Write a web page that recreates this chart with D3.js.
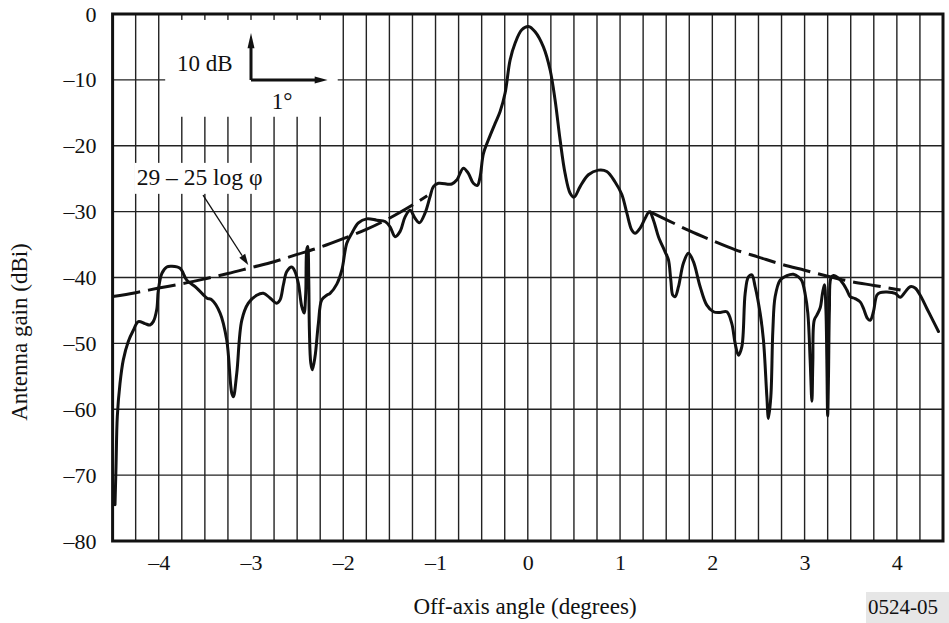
<!DOCTYPE html>
<html>
<head>
<meta charset="utf-8">
<script src="https://cdn.jsdelivr.net/npm/d3@7/dist/d3.min.js"></script>
<style>
  html, body { margin: 0; padding: 0; background: #fff; }
  svg { display: block; }
  text { font-family: "Liberation Serif", "Times New Roman", serif; fill: #111; }
</style>
</head>
<body>
<svg id="chart" width="949" height="623"></svg>
<script>
// ---- data ----
const xTickValues = [-4, -3, -2, -1, 0, 1, 2, 3, 4];
const xTickLabels = ["–4", "–3", "–2", "–1", "0", "1", "2", "3", "4"];
const yTickValues = [0, -10, -20, -30, -40, -50, -60, -70, -80];
const yTickLabels = ["0", "–10", "–20", "–30", "–40", "–50", "–60", "–70", "–80"];

// measured antenna pattern: off-axis angle (deg)
const patternAngle = [
  -4.474, -4.463, -4.449, -4.420, -4.384, -4.330, -4.275, -4.221, -4.149, -4.095,
  -4.059, -4.022, -4.004, -3.967, -3.913, -3.859, -3.769, -3.696, -3.588, -3.480,
  -3.425, -3.335, -3.263, -3.209, -3.191, -3.154, -3.100, -3.029, -2.938, -2.866,
  -2.794, -2.721, -2.685, -2.649, -2.612, -2.558, -2.523, -2.487, -2.450, -2.425,
  -2.407, -2.396, -2.385, -2.374, -2.367, -2.352, -2.335, -2.306, -2.270, -2.233,
  -2.179, -2.143, -2.070, -2.016, -1.962, -1.908, -1.836, -1.745, -1.637, -1.547,
  -1.493, -1.438, -1.384, -1.330, -1.276, -1.222, -1.175, -1.113, -1.059, -1.023,
  -0.969, -0.824, -0.770, -0.698, -0.644, -0.590, -0.546, -0.517, -0.481, -0.427,
  -0.354, -0.300, -0.246, -0.192, -0.138, -0.065, 0.007, 0.079, 0.169, 0.242,
  0.296, 0.350, 0.404, 0.459, 0.502, 0.567, 0.657, 0.765, 0.856, 0.946,
  1.019, 1.073, 1.127, 1.163, 1.218, 1.272, 1.318, 1.362, 1.416, 1.488,
  1.524, 1.550, 1.572, 1.597, 1.633, 1.687, 1.741, 1.795, 1.868, 1.940,
  2.012, 2.085, 2.157, 2.211, 2.247, 2.283, 2.320, 2.356, 2.391, 2.428,
  2.464, 2.518, 2.554, 2.591, 2.608, 2.634, 2.656, 2.681, 2.735, 2.808,
  2.879, 2.933, 2.970, 3.006, 3.035, 3.060, 3.079, 3.089, 3.104, 3.133,
  3.169, 3.194, 3.215, 3.231, 3.241, 3.250, 3.259, 3.269, 3.285, 3.313,
  3.367, 3.421, 3.458, 3.494, 3.548, 3.602, 3.638, 3.681, 3.711, 3.746,
  3.783, 3.819, 3.892, 3.982, 4.036, 4.090, 4.144, 4.198, 4.253, 4.325,
  4.397, 4.451
];
// measured antenna pattern: gain (dBi)
const patternGain = [
  -74.5, -68.7, -61.1, -56.1, -52.5, -49.7, -48.0, -46.7, -47.0, -47.2,
  -46.7, -44.9, -41.9, -39.4, -38.4, -38.3, -38.6, -40.4, -41.6, -43.1,
  -43.4, -45.4, -49.5, -57.5, -58.1, -54.5, -46.5, -43.9, -42.7, -42.4,
  -43.1, -43.9, -43.4, -41.1, -39.1, -38.4, -39.1, -40.9, -44.4, -45.4,
  -42.4, -35.8, -35.3, -40.4, -48.0, -53.0, -54.0, -52.0, -47.0, -43.4,
  -42.7, -42.4, -41.0, -38.9, -34.8, -33.3, -31.7, -31.1, -31.3, -31.5,
  -32.3, -33.8, -33.0, -30.8, -29.8, -31.0, -31.7, -30.2, -27.7, -26.2,
  -25.7, -25.8, -25.2, -23.4, -24.2, -25.7, -26.0, -24.7, -21.2, -19.1,
  -16.6, -14.8, -12.0, -7.0, -4.45, -2.4, -1.9, -2.7, -5.0, -8.5,
  -13.1, -19.1, -24.2, -27.2, -27.8, -26.2, -24.4, -23.7, -23.9, -25.5,
  -27.4, -30.2, -32.8, -33.3, -32.5, -31.0, -30.0, -31.3, -33.8, -36.1,
  -37.3, -40.4, -42.7, -42.9, -41.4, -37.8, -36.3, -37.6, -41.4, -44.2,
  -45.2, -45.3, -45.2, -47.0, -50.0, -51.8, -50.5, -42.4, -39.9, -39.6,
  -41.4, -45.4, -49.5, -58.1, -61.4, -58.1, -48.0, -42.9, -40.4, -39.7,
  -39.5, -39.9, -40.5, -42.5, -45.4, -52.5, -58.8, -53.0, -46.5, -45.7,
  -44.6, -42.4, -41.1, -44.9, -52.5, -61.0, -55.0, -44.9, -40.1, -39.7,
  -40.1, -41.0, -41.9, -42.9, -43.2, -43.7, -44.7, -46.2, -46.5, -45.2,
  -42.7, -42.3, -42.2, -42.4, -43.0, -42.2, -41.4, -41.6, -42.7, -44.7,
  -46.7, -48.2
];

// reference envelope "29 – 25 log φ"
const envLeftAngle = [-4.5, -4.25, -4.0, -3.75, -3.5, -3.25, -3.0, -2.75, -2.5, -2.25, -2.0, -1.75, -1.5, -1.25, -1.09];
const envLeftGain  = [-42.9, -42.3, -41.6, -40.95, -40.2, -39.4, -38.5, -37.6, -36.5, -35.4, -34.1, -32.7, -31.0, -29.0, -27.6];
const envRightAngle = [1.32, 1.5, 1.75, 2.0, 2.25, 2.5, 2.75, 3.0, 3.25, 3.5, 3.75, 4.04];
const envRightGain  = [-30.0, -31.2, -32.9, -34.4, -35.8, -36.9, -38.0, -38.9, -39.8, -40.6, -41.2, -41.9];

// ---- drawing ----
const svg = d3.select("#chart");
const x = d3.scaleLinear().domain([-4.5, 4.5]).range([112.6, 943]);
const y = d3.scaleLinear().domain([0, -80]).range([14, 541]);

const gridX = d3.range(-4.25, 4.26, 0.25);
const gridY = d3.range(-10, -71, -10);

// grid
svg.append("g").selectAll("line").data(gridX).join("line")
  .attr("x1", d => x(d)).attr("x2", d => x(d))
  .attr("y1", y(0)).attr("y2", y(-80))
  .attr("stroke", "#222").attr("stroke-width", 1.4);
svg.append("g").selectAll("line").data(gridY).join("line")
  .attr("x1", x(-4.5)).attr("x2", x(4.5))
  .attr("y1", d => y(d)).attr("y2", d => y(d))
  .attr("stroke", "#222").attr("stroke-width", 1.4);

// white panels (inset scale and formula label)
svg.append("rect")
  .attr("x", x(-3.93)).attr("y", y(-0.9))
  .attr("width", x(-2.06) - x(-3.93)).attr("height", y(-15.6) - y(-0.9))
  .attr("fill", "#fff");
svg.append("rect")
  .attr("x", x(-4.26)).attr("y", y(-22.6))
  .attr("width", x(-2.82) - x(-4.26)).attr("height", y(-27.3) - y(-22.6))
  .attr("fill", "#fff");

// frame
svg.append("rect")
  .attr("x", x(-4.5)).attr("y", y(0))
  .attr("width", x(4.5) - x(-4.5)).attr("height", y(-80) - y(0))
  .attr("fill", "none").attr("stroke", "#111").attr("stroke-width", 3);

// axes (labels only)
const xAxis = d3.axisBottom(x).tickValues(xTickValues)
  .tickFormat((d, i) => xTickLabels[i]).tickSize(0).tickPadding(13);
const gx = svg.append("g").attr("transform", `translate(0,${y(-80)})`).call(xAxis);
gx.select(".domain").remove();
gx.attr("font-family", "Liberation Serif, serif");
gx.selectAll("text").attr("font-size", 22).attr("fill", "#111");

const yAxis = d3.axisLeft(y).tickValues(yTickValues)
  .tickFormat((d, i) => yTickLabels[i]).tickSize(0).tickPadding(16);
const gy = svg.append("g").attr("transform", `translate(${x(-4.5)},0)`).call(yAxis);
gy.select(".domain").remove();
gy.attr("font-family", "Liberation Serif, serif");
gy.selectAll("text").attr("font-size", 22).attr("fill", "#111");

// axis titles
svg.append("text").attr("x", 525).attr("y", 614).attr("text-anchor", "middle")
  .attr("font-size", 23).text("Off-axis angle (degrees)");
svg.append("text").attr("transform", "translate(27,332) rotate(-90)")
  .attr("text-anchor", "middle").attr("font-size", 23).text("Antenna gain (dBi)");

// figure number box
svg.append("rect").attr("x", 866).attr("y", 592).attr("width", 83).attr("height", 31)
  .attr("fill", "#e6e6e6");
svg.append("text").attr("x", 903).attr("y", 614).attr("text-anchor", "middle")
  .attr("font-size", 21).text("0524-05");

// envelope dashed curves
const envLine = d3.line().x(d => x(d[0])).y(d => y(d[1])).curve(d3.curveMonotoneX);
[[envLeftAngle, envLeftGain], [envRightAngle, envRightGain]].forEach(([a, g]) => {
  svg.append("path").datum(a.map((v, i) => [v, g[i]]))
    .attr("d", envLine).attr("fill", "none").attr("stroke", "#111")
    .attr("stroke-width", 3).attr("stroke-dasharray", "28,8");
});

// pattern curve
const pattern = patternAngle.map((v, i) => [v, patternGain[i]]);
svg.append("path").datum(pattern)
  .attr("d", d3.line().x(d => x(d[0])).y(d => y(d[1])).curve(d3.curveCatmullRom.alpha(0.5)))
  .attr("fill", "none").attr("stroke", "#111").attr("stroke-width", 3)
  .attr("stroke-linejoin", "round").attr("stroke-linecap", "round");

// inset scale: 10 dB / 1°
const cx = x(-3.0), cy = y(-10);
svg.append("path")
  .attr("d", `M${cx},${cy} L${cx},${y(-4.6)} M${cx},${cy} L${x(-2.3)},${cy}`)
  .attr("stroke", "#111").attr("stroke-width", 3).attr("fill", "none");
svg.append("path")
  .attr("d", `M${cx},${y(-2.9)} L${cx - 3.5},${y(-5.2)} L${cx + 3.5},${y(-5.2)} Z`)
  .attr("fill", "#111");
svg.append("path")
  .attr("d", `M${x(-2.17)},${cy} L${x(-2.31)},${cy - 3.5} L${x(-2.31)},${cy + 3.5} Z`)
  .attr("fill", "#111");
svg.append("text").attr("x", x(-3.2)).attr("y", y(-8.65)).attr("text-anchor", "end")
  .attr("font-size", 23).text("10 dB");
svg.append("text").attr("x", x(-2.775)).attr("y", y(-14.4))
  .attr("font-size", 23).text("1°");

// formula label with leader arrow
svg.append("text").attr("x", x(-4.239)).attr("y", y(-25.96))
  .attr("font-size", 23.5).text("29 – 25 log φ");
const ax1 = x(-3.52), ay1 = y(-27.5), ax2 = x(-3.03), ay2 = y(-38.1);
const ang = Math.atan2(ay2 - ay1, ax2 - ax1);
const hl = 11, hw = 3.5;
const bx = ax2 - hl * Math.cos(ang), by = ay2 - hl * Math.sin(ang);
svg.append("line").attr("x1", ax1).attr("y1", ay1).attr("x2", bx).attr("y2", by)
  .attr("stroke", "#111").attr("stroke-width", 1.3);
svg.append("path")
  .attr("d", `M${ax2},${ay2} L${bx - hw * Math.sin(ang)},${by + hw * Math.cos(ang)} L${bx + hw * Math.sin(ang)},${by - hw * Math.cos(ang)} Z`)
  .attr("fill", "#111");
</script>
</body>
</html>
